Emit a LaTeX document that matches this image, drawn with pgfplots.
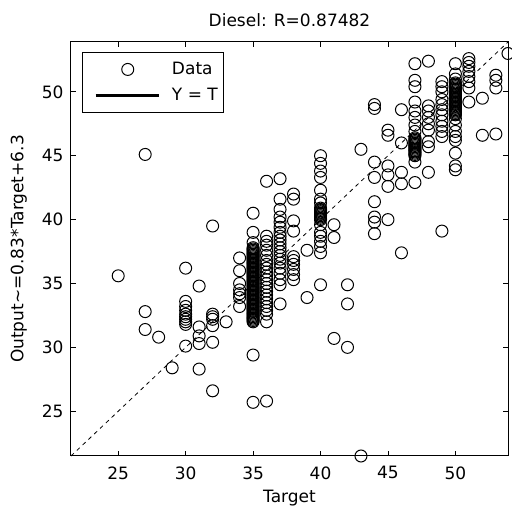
\documentclass[border=0pt]{standalone}
\usepackage{fontspec}
\setmainfont{DejaVu Sans}
\usepackage{pgfplots}
\pgfplotsset{compat=1.18}
\begin{document}
\begin{tikzpicture}[font=\fontsize{17}{20}\selectfont]
\useasboundingbox (-71pt,-52pt) rectangle (441pt,456pt);
\begin{axis}[
  at={(0pt,0pt)}, anchor=south west,
  scale only axis, width=437pt, height=414pt,
  xmin=21.5, xmax=53.9, ymin=21.5, ymax=53.9,
  xtick={25,30,35,40,45,50}, ytick={25,30,35,40,45,50},
  /pgf/number format/assume math mode=true,
  tick align=inside, major tick length=5pt,
  tick style={black, line width=0.8pt},
  axis line style={black, line width=1pt},
  clip=false,
  title={Diesel: R=0.87482},
  title style={yshift=6pt},
  xlabel={Target},
  ylabel={Output\textasciitilde=0.83*Target+6.3},
  xticklabel style={yshift=-7pt},
  yticklabel style={xshift=-4pt},
  xlabel style={yshift=-4pt},
  ylabel shift=8pt,
  legend cell align=left,
  legend style={at={(rel axis cs:0,1)}, anchor=north west, xshift=11pt, yshift=-10pt,
    draw=black, line width=1pt, fill=white, inner xsep=4pt, inner ysep=8pt, row sep=8pt,
    font=\fontsize{17}{20}\selectfont},
]
\addplot[only marks, mark=o, mark size=6pt, line width=1pt, black,
  legend image code/.code={\path (0pt,0pt); \draw[black, line width=1pt] plot[mark=o, mark size=6pt] coordinates {(40pt,0pt)}; \path (81pt,0pt);}]
table {
x y
25 35.6
27 45.1
27 32.8
27 31.4
28 30.8
29 28.4
30 36.2
30 33.6
30 33.2
30 32.9
30 32.6
30 32.4
30 32.2
30 32.0
30 31.8
30 30.1
31 34.8
31 31.6
31 30.9
31 30.3
31 28.3
32 39.5
32 32.6
32 32.4
32 32.2
32 31.7
32 30.4
32 26.6
33 32.0
34 37.0
34 36.0
34 35.0
34 34.5
34 34.2
34 33.9
34 33.2
35 40.5
35 39.0
35 38.2
35 37.8
35 37.7
35 37.6
35 37.5
35 37.4
35 37.3
35 37.2
35 37.1
35 37.0
35 36.9
35 36.8
35 36.7
35 36.6
35 36.5
35 36.4
35 36.3
35 36.2
35 36.1
35 36.0
35 35.9
35 35.8
35 35.7
35 35.6
35 35.5
35 35.4
35 35.3
35 35.2
35 35.1
35 35.0
35 34.9
35 34.8
35 34.7
35 34.6
35 34.5
35 34.4
35 34.3
35 34.2
35 34.1
35 34.0
35 33.9
35 33.8
35 33.7
35 33.6
35 33.5
35 33.4
35 33.3
35 33.2
35 33.1
35 33.0
35 32.9
35 32.8
35 32.7
35 32.6
35 32.5
35 32.4
35 32.3
35 32.2
35 32.1
35 32.0
35 29.4
35 25.7
36 43.0
36 38.7
36 38.3
36 38.0
36 37.6
36 37.2
36 36.8
36 36.5
36 36.2
36 35.9
36 35.6
36 35.3
36 35.0
36 34.7
36 34.4
36 34.1
36 33.8
36 33.5
36 33.2
36 32.9
36 32.6
36 32.0
36 25.8
37 43.2
37 41.6
37 40.8
37 40.2
37 39.8
37 39.4
37 39.0
37 38.7
37 38.4
37 38.1
37 37.8
37 37.5
37 37.2
37 36.9
37 36.6
37 36.2
37 35.8
37 35.3
37 34.9
37 33.4
38 42.0
38 41.6
38 39.9
38 39.1
38 37.1
38 36.8
38 36.5
38 36.1
38 35.7
38 35.3
39 37.6
39 33.9
40 45.0
40 44.4
40 43.8
40 43.3
40 42.3
40 41.6
40 41.3
40 40.9
40 40.8
40 40.7
40 40.6
40 40.5
40 40.4
40 40.3
40 40.2
40 40.1
40 40.0
40 39.6
40 39.0
40 38.7
40 38.3
40 37.9
40 37.4
40 34.9
41 39.6
41 38.6
41 30.7
42 34.9
42 33.4
42 30.0
43 45.5
43 21.5
44 49.0
44 48.7
44 44.5
44 43.3
44 41.4
44 40.2
44 39.8
44 38.9
45 47.0
45 46.6
45 44.2
45 43.5
45 42.6
45 40.0
46 48.6
46 46.0
46 43.7
46 42.8
46 37.4
47 52.2
47 50.9
47 50.4
47 49.2
47 48.5
47 48.0
47 47.4
47 46.9
47 46.4
47 46.3
47 46.2
47 46.1
47 46.0
47 45.9
47 45.8
47 45.7
47 45.6
47 45.5
47 45.4
47 45.3
47 45.2
47 45.1
47 45.0
47 44.5
47 42.9
48 52.4
48 48.9
48 48.5
48 48.0
48 47.5
48 47.0
48 46.1
48 45.7
48 43.7
49 50.8
49 50.4
49 50.0
49 49.4
49 49.0
49 48.6
49 48.2
49 47.7
49 47.3
49 46.9
49 46.5
49 39.1
50 52.2
50 51.4
50 51.0
50 50.7
50 50.6
50 50.5
50 50.4
50 50.3
50 50.2
50 50.1
50 50.0
50 49.9
50 49.8
50 49.7
50 49.6
50 49.5
50 49.4
50 49.3
50 49.2
50 49.1
50 49.0
50 48.9
50 48.8
50 48.7
50 48.6
50 48.5
50 48.4
50 48.3
50 48.2
50 47.9
50 47.4
50 46.9
50 46.5
50 46.2
50 45.2
50 44.2
50 43.9
51 52.6
51 52.3
51 52.0
51 51.6
51 51.2
51 50.8
51 50.3
51 49.2
52 49.5
52 46.6
53 51.3
53 50.9
53 50.3
53 46.7
53.9 53.0
};
\addlegendentry{Data}
\addplot[black, line width=0.8pt, dash pattern=on 4pt off 4pt, forget plot] coordinates {(21.5,21.5) (53.9,53.9)};
\addlegendimage{black, line width=2.5pt, legend image code/.code={\path (0pt,0pt); \draw[black, line width=2.5pt] (8pt,0pt) -- (71pt,0pt); \path (81pt,0pt);}}
\addlegendentry{Y = T}
\end{axis}
\end{tikzpicture}
\end{document}
